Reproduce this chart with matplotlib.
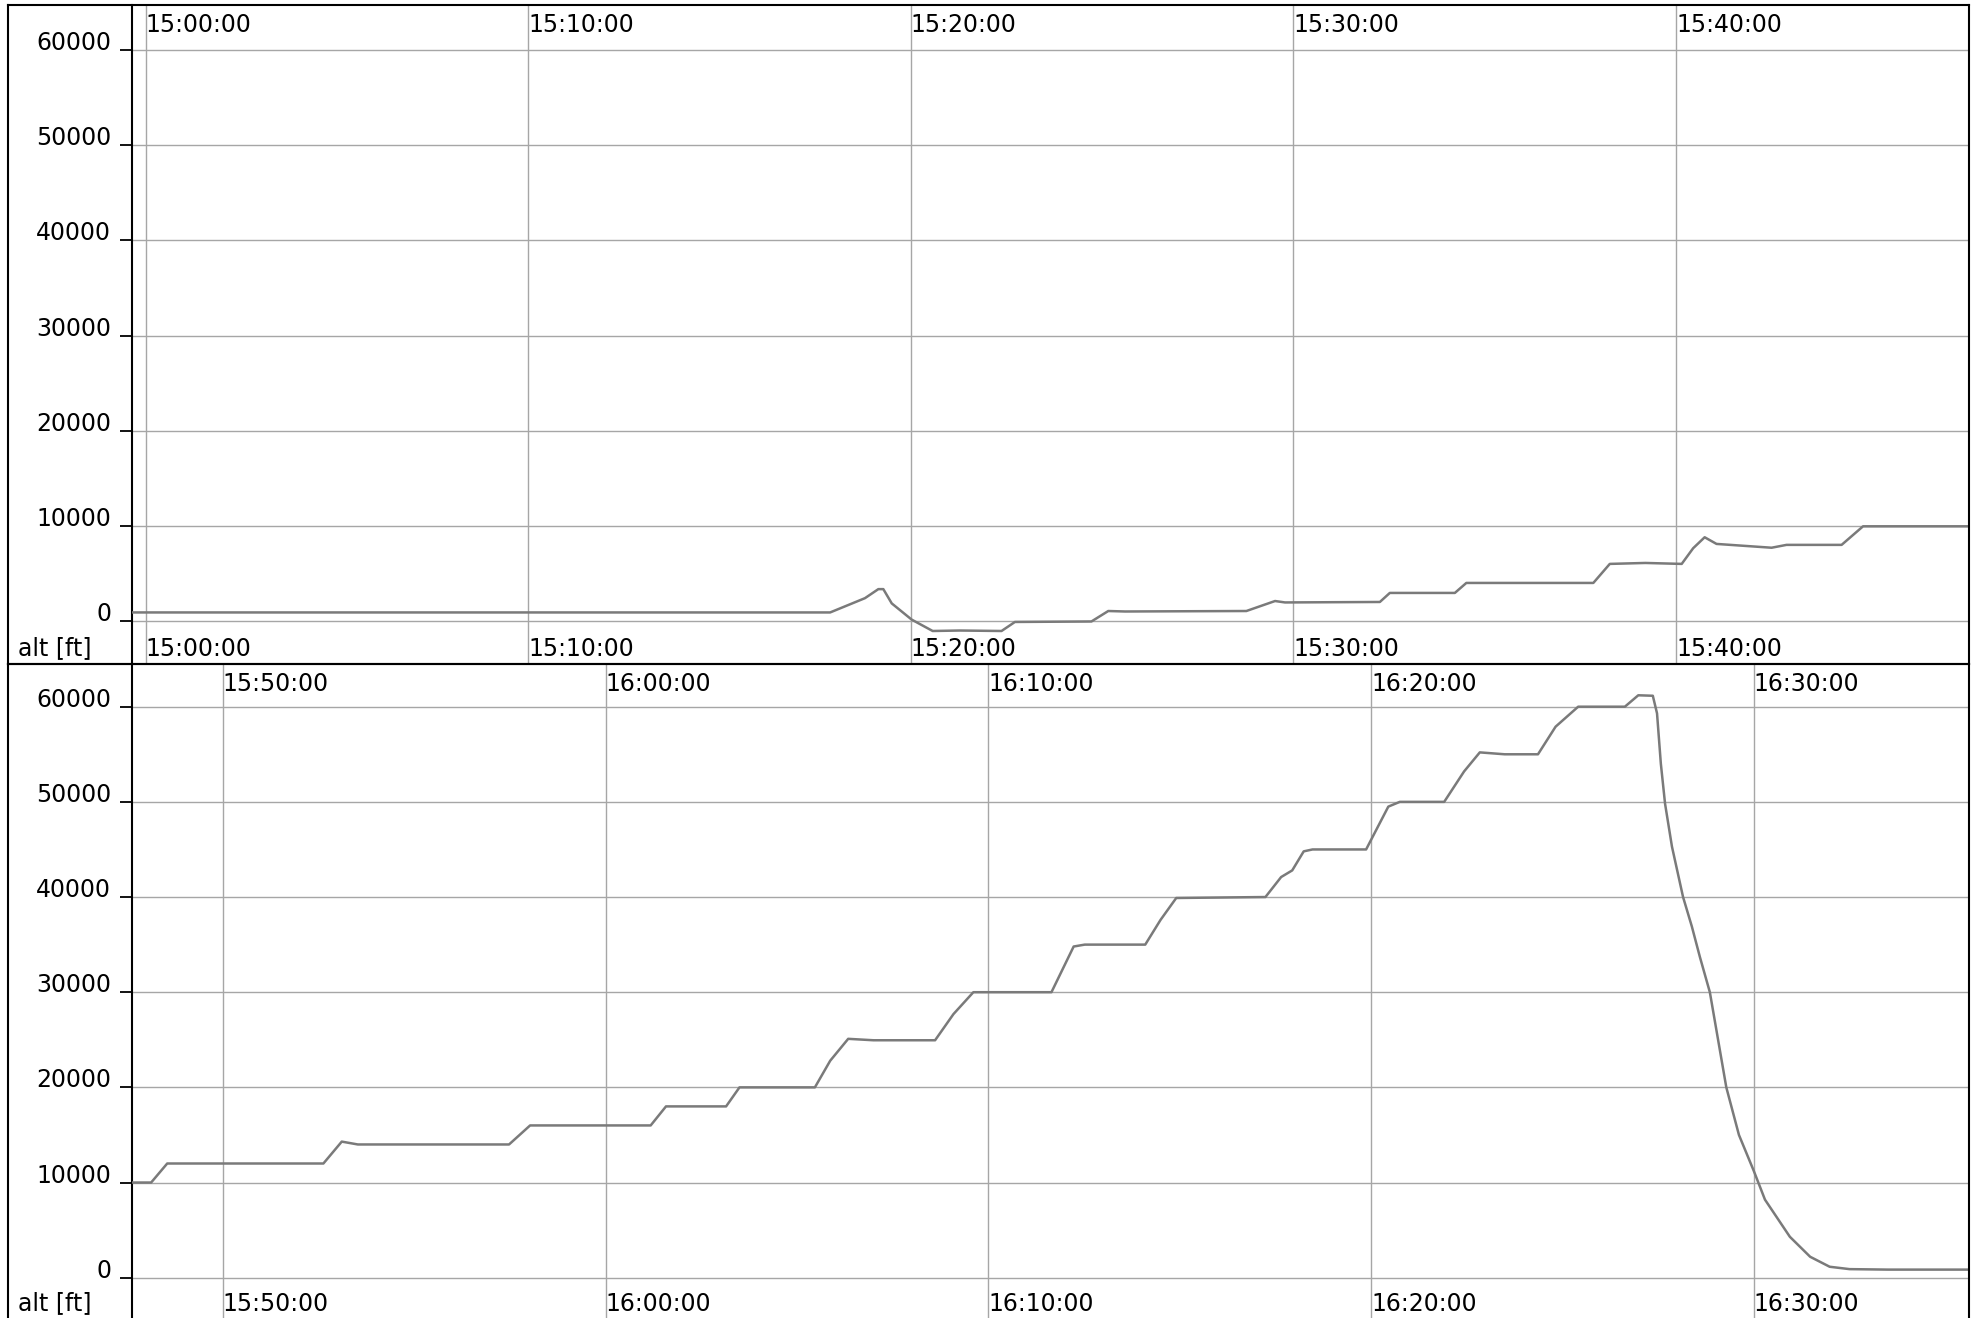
import matplotlib
matplotlib.use('Agg')
import matplotlib.pyplot as plt
from matplotlib.transforms import offset_copy

W, H, DPI = 1979, 1318, 100

# altitude trace, split in two strips; time in minutes after 15:00:00
top_minutes = [-0.36, 17.89, 18.80, 19.15, 19.28, 19.50, 20.02, 20.57, 21.28, 22.37,
               22.72, 24.72, 25.16, 25.60, 28.77, 29.52, 29.78, 32.26, 32.52, 34.22,
               34.52, 37.84, 38.27, 39.20, 40.15, 40.45, 40.75, 41.06, 42.50, 42.89,
               44.33, 44.89, 47.66]
top_alt_ft = [900, 900, 2400, 3350, 3350, 1850, 150, -1050, -1000, -1050,
              -100, -50, 1050, 1000, 1050, 2100, 1950, 2000, 2950, 2950,
              4000, 4000, 6000, 6100, 6000, 7650, 8800, 8100, 7700, 8000,
              8000, 9950, 9950]

bottom_minutes = [47.63, 48.13, 48.55, 52.63, 53.11, 53.53, 57.48, 58.03, 61.18, 61.58,
                  63.15, 63.50, 65.47, 65.87, 66.34, 67.00, 68.61, 69.09, 69.61, 71.65,
                  72.23, 72.52, 74.10, 74.50, 74.91, 77.24, 77.65, 77.94, 78.24, 78.47,
                  79.87, 80.45, 80.75, 81.91, 82.43, 82.84, 83.49, 84.36, 84.82, 85.41,
                  86.63, 86.98, 87.36, 87.47, 87.57, 87.68, 87.86, 88.15, 88.38, 88.59,
                  88.85, 89.28, 89.61, 90.00, 90.29, 90.94, 91.47, 91.98, 92.50, 93.50,
                  95.62]
bottom_alt_ft = [10000, 10000, 12000, 12000, 14300, 14000, 14000, 16000, 16000, 18000,
                 18000, 20000, 20000, 22800, 25100, 24950, 24950, 27700, 30000, 30000,
                 34800, 35000, 35000, 37600, 39900, 40000, 42100, 42800, 44800, 45000,
                 45000, 49500, 50000, 50000, 53200, 55200, 55000, 55000, 57900, 60000,
                 60000, 61200, 61150, 59300, 54000, 49800, 45300, 40000, 36900, 33700,
                 30000, 20000, 15000, 11200, 8200, 4300, 2200, 1150, 900, 850,
                 850]

alt_ticks = [0, 10000, 20000, 30000, 40000, 50000, 60000]
top_time_ticks = [0, 10, 20, 30, 40]
bottom_time_ticks = [50, 60, 70, 80, 90]

FS = 17
LINE_C = '#7a7a7a'
GRID_C = '#a6a6a6'


def hms(m):
    s = int(round(m * 60)) + 15 * 3600
    return f'{s // 3600:02d}:{s % 3600 // 60:02d}:{s % 60:02d}'


def box(x0, y0, x1, y1):
    return [x0 / W, 1 - y1 / H, (x1 - x0) / W, (y1 - y0) / H]


fig = plt.figure(figsize=(W / DPI, H / DPI), dpi=DPI)


def strip(y0, y1, xlim, ylim, t, alt, ticks, bottom_pad):
    ax = fig.add_axes(box(132, y0, 1969, y1))
    ax.plot(t, alt, color=LINE_C, lw=1.8, zorder=3, solid_joinstyle='round')
    ax.set_xlim(*xlim)
    ax.set_ylim(*ylim)
    ax.set_xticks(ticks)
    ax.set_yticks(alt_ticks)
    ax.grid(True, color=GRID_C, lw=1.0)
    ax.tick_params(axis='x', length=0, labelbottom=False)
    ax.tick_params(axis='y', length=9, width=1.3, direction='out', labelleft=False)
    for s in ('top', 'right', 'bottom'):
        ax.spines[s].set_visible(False)
    ax.spines['left'].set_linewidth(1.5)

    ylab = offset_copy(ax.get_yaxis_transform(), fig=fig, x=-21, y=0, units='dots')
    for v in alt_ticks:
        ax.text(0, v, str(v), transform=ylab, ha='right', va='baseline',
                fontsize=FS, clip_on=False)

    top_lab = offset_copy(ax.get_xaxis_transform(), fig=fig, x=0, y=-27, units='dots')
    bot_lab = offset_copy(ax.get_xaxis_transform(), fig=fig, x=0, y=bottom_pad, units='dots')
    for tk in ticks:
        ax.text(tk, 1, hms(tk), transform=top_lab, ha='left', va='baseline', fontsize=FS)
        ax.text(tk, 0, hms(tk), transform=bot_lab, ha='left', va='baseline', fontsize=FS)

    fig.text(18 / W, 1 - (y1 - bottom_pad - 1) / H, 'alt [ft]', ha='left',
             va='baseline', fontsize=FS)

    # outer frame of the strip
    fr = fig.add_axes(box(8, y0, 1969, y1), zorder=5)
    fr.set_facecolor('none')
    fr.set_xticks([])
    fr.set_yticks([])
    for s in fr.spines.values():
        s.set_linewidth(1.5)
    return ax


strip(5, 664, (-0.36, 47.66), (-4518, 64730),
      top_minutes, top_alt_ft, top_time_ticks, 8)
strip(664, 1320, (47.63, 95.62), (-4445, 64487),
      bottom_minutes, bottom_alt_ft, bottom_time_ticks, 9)

fig.savefig('out.png', dpi=DPI)
